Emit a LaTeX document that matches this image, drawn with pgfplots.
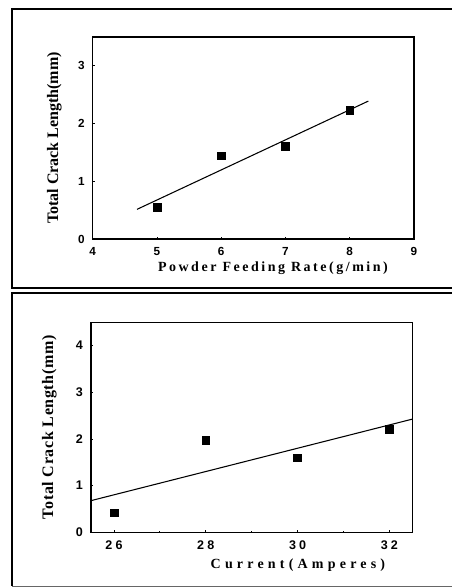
\documentclass[border=0pt]{standalone}
\usepackage{fontspec}
\setmainfont{Liberation Serif}
\newfontfamily\ticfont{Liberation Sans}
\newfontfamily\lblA[LetterSpace=18]{Liberation Serif}
\newfontfamily\lblB[LetterSpace=30]{Liberation Serif}
\newfontfamily\lblC[LetterSpace=4]{Liberation Serif}
\newfontfamily\ticB[LetterSpace=25]{Liberation Sans}
\usepackage{pgfplots}
\pgfplotsset{compat=1.18}

\pgfplotsset{
  crack/.style={
    scale only axis,
    axis line style={line width=1pt},
    tick align=inside,
    major tick length=1.8pt,
    tick style={line width=0.6pt, black},
    xtick pos=bottom, ytick pos=left,
    /pgf/number format/assume math mode=true,
    yticklabel style={xshift=-2.5pt},
    clip=false,
  },
  pts/.style={only marks, mark=square*, mark size=2.9pt, black},
  fit/.style={black, line width=0.8pt, mark=none},
}

\begin{document}
\begin{tikzpicture}
\path[use as bounding box] (0,0) rectangle (339pt,440.25pt);

% panel frames
\draw[line width=0.9pt] (339pt,433.5pt) -- (9pt,433.5pt) -- (9pt,224.25pt) -- (339pt,224.25pt);
\draw[line width=0.9pt] (339pt,220.5pt) -- (9pt,220.5pt) -- (9pt,0.75pt);
\draw[line width=0.6pt, black!60] (9pt,0.75pt) -- (339pt,0.75pt);

% top: powder feeding rate
\begin{axis}[crack,
  at={(69.5pt,261pt)}, anchor=south west,
  width=241pt, height=151.5pt,
  xmin=4, xmax=9, ymin=0, ymax=3.5,
  xtick={4,5,6,7,8,9}, ytick={0,1,2,3},
  ticklabel style={font=\ticfont\bfseries\fontsize{8.8}{9}\selectfont},
  xticklabel style={yshift=-3pt},
  xlabel={\lblA\bfseries\fontsize{10.5}{12}\selectfont Powder Feeding Rate(g/min)},
  xlabel style={at={(axis description cs:0.561,0)}, anchor=north, inner sep=0pt, yshift=-17pt},
  ylabel={\bfseries\fontsize{12}{14}\selectfont Total Crack Length(mm)},
  ylabel style={at={(axis description cs:0,0.5)}, anchor=south, inner sep=0pt, yshift=23pt},
]
\addplot[pts] coordinates {(5,0.55) (6,1.44) (7,1.61) (8,2.23)};
\addplot[fit] coordinates {(4.69,0.514) (8.29,2.390)};
\end{axis}

% bottom: current
\begin{axis}[crack,
  at={(68.25pt,41pt)}, anchor=south west,
  width=241pt, height=157.5pt,
  xmin=25.5, xmax=32.5, ymin=0, ymax=4.5,
  xtick={26,28,30,32}, ytick={0,1,2,3,4},
  minor xtick={27,29,31}, minor ytick={0.5,1.5,2.5,3.5},
  minor tick length=1pt,
  xticklabel style={font=\ticB\bfseries\fontsize{9.4}{10}\selectfont, yshift=-3pt},
  yticklabel style={font=\ticfont\bfseries\fontsize{9.4}{10}\selectfont},
  xlabel={\lblB\bfseries\fontsize{10.5}{12}\selectfont Current(Amperes)},
  xlabel style={at={(axis description cs:0.644,0)}, anchor=north, inner sep=0pt, yshift=-20pt},
  ylabel={\lblC\bfseries\fontsize{12}{14}\selectfont Total Crack Length(mm)},
  ylabel style={at={(axis description cs:0,0.5)}, anchor=south, inner sep=0pt, yshift=25.5pt},
]
\addplot[pts] coordinates {(26,0.42) (28,1.98) (30,1.60) (32,2.21)};
\addplot[fit] coordinates {(25.5,0.679) (32.5,2.426)};
\end{axis}
\end{tikzpicture}
\end{document}
